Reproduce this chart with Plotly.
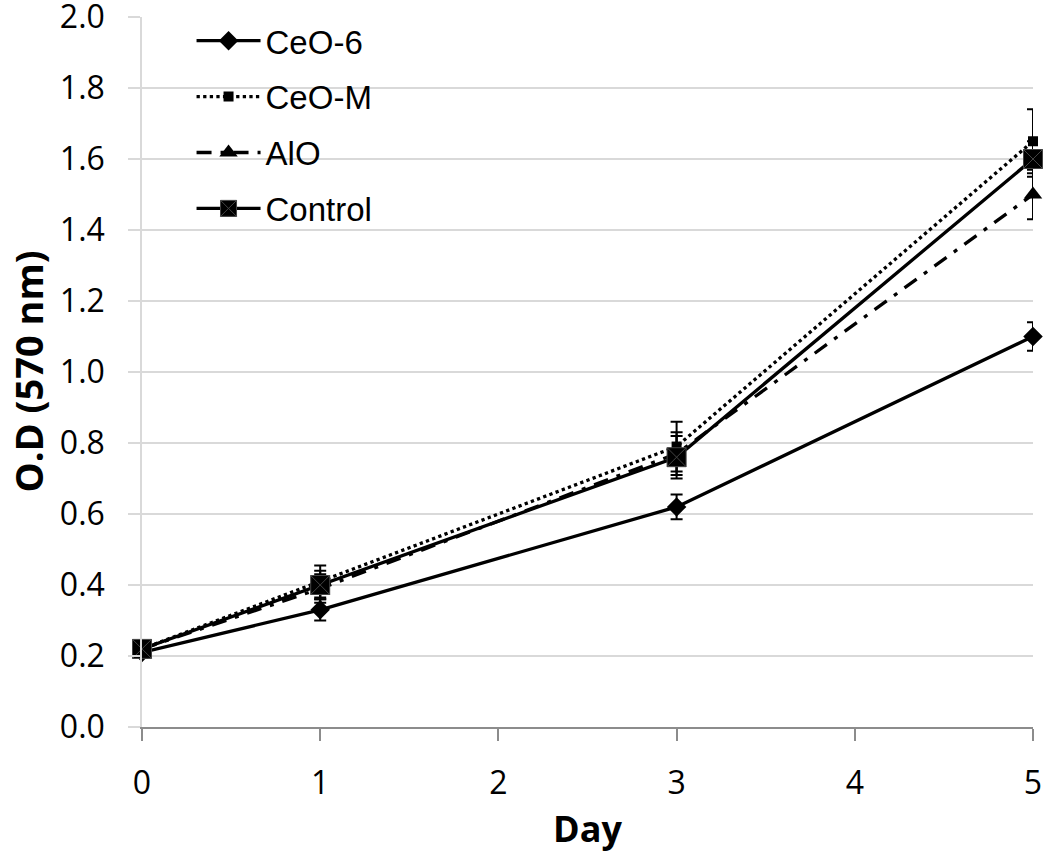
import plotly.graph_objects as go

days = [0, 1, 3, 5]
series_names = ["CeO-6", "CeO-M", "AlO", "Control"]
ceo6 = [0.21, 0.33, 0.62, 1.10]
ceo6_err = [0.015, 0.03, 0.035, 0.04]
ceom = [0.22, 0.41, 0.79, 1.65]
ceom_err = [0.015, 0.045, 0.07, 0.09]
alo = [0.22, 0.39, 0.77, 1.50]
alo_err = [0.015, 0.04, 0.06, 0.07]
control = [0.22, 0.40, 0.76, 1.60]
control_err = [0.02, 0.04, 0.06, 0.05]
y_ticks = [0.0, 0.2, 0.4, 0.6, 0.8, 1.0, 1.2, 1.4, 1.6, 1.8, 2.0]
x_ticks = [0, 1, 2, 3, 4, 5]
x_title = "Day"
y_title = "O.D (570 nm)"

values = [ceo6, ceom, alo, control]
errors = [ceo6_err, ceom_err, alo_err, control_err]
styles = [
    dict(dash="solid", symbol="diamond", size=15),
    dict(dash="dot", symbol="square", size=10),
    dict(dash="15px,9px,4px,9px", symbol="triangle-up", size=16),
    dict(dash="solid", symbol="square-x", size=19),
]

fig = go.Figure()
for i, (name, v, e, s) in enumerate(zip(series_names, values, errors, styles)):
    fig.add_trace(go.Scatter(
        x=days, y=v, name=name, mode="lines+markers",
        line=dict(color="black", width=3.3, dash=s["dash"]),
        marker=dict(symbol=s["symbol"], size=s["size"], color="black",
                    line=dict(color="#444444", width=1) if s["symbol"] == "square-x" else dict(width=0)),
        error_y=dict(type="data", array=e, visible=True, color="black", thickness=2, width=6),
        cliponaxis=False,
        legendgroup=name,
    ))

fig.update_layout(
    width=1050, height=853,
    margin=dict(l=142, r=17, t=17, b=126),
    paper_bgcolor="white", plot_bgcolor="white",
    showlegend=True,
    legend=dict(x=0.0556, y=1.006, xanchor="left", yanchor="top",
                font=dict(family="Liberation Sans, Arial", size=33, color="black"),
                bgcolor="rgba(0,0,0,0)", itemwidth=64, tracegroupgap=10),
    font=dict(family="Open Sans", color="black"),
    annotations=[
        dict(text="<b>" + y_title + "</b>", textangle=-90, xref="paper", yref="paper",
             x=-0.1285, y=0.5, xanchor="center", yanchor="middle", showarrow=False,
             font=dict(family="Open Sans", size=38, color="black")),
    ],
)
fig.update_xaxes(
    range=[0, 5], tickvals=x_ticks, showgrid=False, automargin=False,
    ticklabeloverflow="allow",
    showline=True, linecolor="#8c8c8c", linewidth=1.5,
    ticks="outside", ticklen=12, tickcolor="#8c8c8c", tickwidth=1.5,
    tickfont=dict(family="Open Sans", size=32, color="black"),
    ticklabelstandoff=15,
    title=dict(text="<b>" + x_title + "</b>", font=dict(family="Open Sans", size=36, color="black"), standoff=20),
    zeroline=False,
)
fig.update_yaxes(
    range=[0, 2], tickvals=y_ticks, tickformat=".1f", automargin=False,
    ticklabeloverflow="allow",
    showgrid=True, gridcolor="#d9d9d9", gridwidth=1.5,
    showline=True, linecolor="#d9d9d9", linewidth=1.5,
    ticks="outside", ticklen=12, tickcolor="#d9d9d9", tickwidth=1.5,
    tickfont=dict(family="Open Sans", size=32, color="black"),
    ticklabelstandoff=17,
    zeroline=False,
)

fig.write_html("out.html", config={"displayModeBar": False},
               post_script="document.body.style.margin='0px';")
